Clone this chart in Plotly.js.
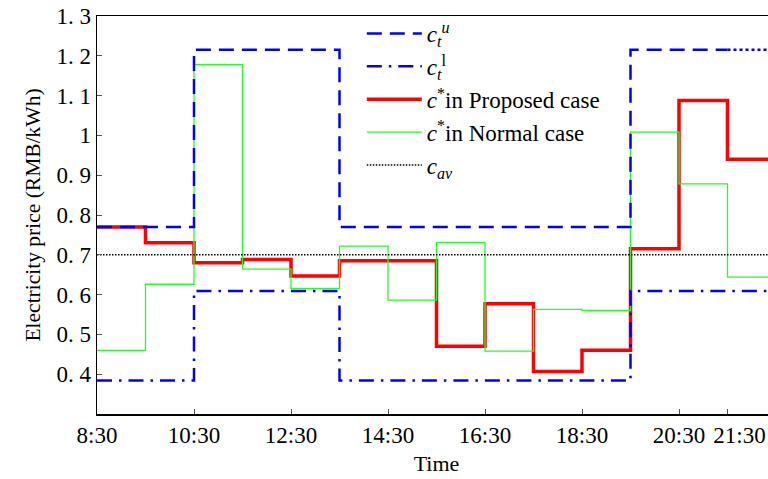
<!DOCTYPE html>
<html>
<head>
<meta charset="utf-8">
<script src="https://cdn.plot.ly/plotly-3.0.1.min.js"></script>
<style>
html, body { margin: 0; padding: 0; overflow: hidden; background: #fff; }
#chart { width: 810px; height: 479px; }
</style>
</head>
<body>
<div id="chart"></div>
<script>
// Hourly interval start times (hours), last entry is the end of the final interval
const timeEdges = [8.5, 9.5, 10.5, 11.5, 12.5, 13.5, 14.5, 15.5, 16.5, 17.5, 18.5, 19.5, 20.5, 21.5, 22.5];

const upperPrice    = [0.77, 0.77, 1.215, 1.215, 1.215, 0.77, 0.77, 0.77, 0.77, 0.77, 0.77, 1.215, 1.215, 1.215];
const lowerPrice    = [0.384, 0.384, 0.609, 0.609, 0.609, 0.384, 0.384, 0.384, 0.384, 0.384, 0.384, 0.609, 0.609, 0.609];
const proposedPrice = [0.77, 0.73, 0.68, 0.688, 0.647, 0.685, 0.685, 0.47, 0.577, 0.407, 0.46, 0.715, 1.088, 0.94];
const normalPrice   = [0.46, 0.626, 1.178, 0.664, 0.615, 0.722, 0.586, 0.731, 0.458, 0.563, 0.56, 1.008, 0.878, 0.644];
const averagePrice  = 0.70;

const xTickVals = [8.5, 10.5, 12.5, 14.5, 16.5, 18.5, 20.5];
const xTickText = ['8:30', '10:30', '12:30', '14:30', '16:30', '18:30', '20:30'];
const xLastTickVal = [21.5];
const xLastTickText = ['21:30'];
const yTickVals = [0.4, 0.5, 0.6, 0.7, 0.8, 0.9, 1.0, 1.1, 1.2, 1.3];
const yTickText = ['0. 4', '0. 5', '0. 6', '0. 7', '0. 8', '0. 9', '1', '1. 1', '1. 2', '1. 3'];

function stepY(vals) { return vals.concat([vals[vals.length - 1]]); }

const FONT = 'Liberation Serif';
const nSolid = timeEdges.length - 1; // dashed part of upper price up to 21:30

const traces = [
  {
    x: timeEdges, y: stepY(proposedPrice), mode: 'lines', line: {shape: 'hv', color: '#ff0000', width: 3.5},
    name: '<i>c</i><sup>*</sup>in Proposed case', legendrank: 3
  },
  {
    x: timeEdges, y: stepY(normalPrice), mode: 'lines', line: {shape: 'hv', color: '#22ff22', width: 1.3},
    name: '<i>c</i><sup>*</sup>in Normal case', legendrank: 4
  },
  {
    x: [timeEdges[0], timeEdges[timeEdges.length - 1]], y: [averagePrice, averagePrice], mode: 'lines',
    xaxis: 'x2',
    line: {color: '#000000', width: 1.5, dash: '1.5px,1.5px'},
    name: '<i>c</i><sub><i>av</i></sub>', legendrank: 5
  },
  {
    x: timeEdges.slice(0, nSolid), y: upperPrice.slice(0, nSolid), mode: 'lines',
    line: {shape: 'hv', color: '#0000ff', width: 2.5, dash: '15px,8px'},
    name: '<i>c</i><sub><i>t</i></sub><sup><i>u</i></sup>', legendrank: 1
  },
  {
    x: timeEdges.slice(nSolid - 1), y: stepY(upperPrice.slice(nSolid - 1)), mode: 'lines',
    line: {shape: 'hv', color: '#0000ff', width: 2.5, dash: '3px,3px'},
    showlegend: false, hoverinfo: 'skip'
  },
  {
    x: timeEdges, y: stepY(lowerPrice), mode: 'lines',
    line: {shape: 'hv', color: '#0000ff', width: 2.5, dash: '15px,7px,2.5px,7px'},
    name: '<i>c</i><sub><i>t</i></sub><sup>l</sup>', legendrank: 2
  }
];

const layout = {
  width: 810, height: 479,
  margin: {l: 97, r: 34, t: 14, b: 65},
  paper_bgcolor: '#ffffff', plot_bgcolor: '#ffffff',
  font: {family: FONT, color: '#000000', size: 23},
  showlegend: true,
  legend: {
    x: 0.39, y: 1.01, xanchor: 'left', yanchor: 'top',
    bgcolor: 'rgba(255,255,255,0)', borderwidth: 0,
    font: {family: FONT, size: 23, color: '#000000'},
    itemwidth: 55, tracegroupgap: 0
  },
  xaxis: {
    range: [8.5, 22.5], tickmode: 'array', tickvals: xTickVals, ticktext: xTickText,
    tickangle: 0,
    ticks: 'inside', ticklen: 5, tickwidth: 1, tickcolor: '#555',
    showline: true, linecolor: '#000', linewidth: 1.5, mirror: true,
    showgrid: false, zeroline: false,
    tickfont: {family: FONT, size: 23},
    title: {text: 'Time', font: {family: FONT, size: 22}, standoff: 8}
  },
  xaxis2: {
    range: [8.5, 22.5], overlaying: 'x', side: 'bottom', anchor: 'y',
    tickmode: 'array', tickvals: xLastTickVal, ticktext: xLastTickText,
    tickangle: 0, ticklabelshift: 12,
    ticks: 'inside', ticklen: 5, tickwidth: 1, tickcolor: '#555',
    showline: true, linecolor: '#000', linewidth: 1.5, mirror: false,
    showgrid: false, zeroline: false,
    tickfont: {family: FONT, size: 23}
  },
  yaxis: {
    range: [0.3, 1.3], tickmode: 'array', tickvals: yTickVals, ticktext: yTickText,
    ticks: 'inside', ticklen: 5, tickwidth: 1, tickcolor: '#555',
    showline: true, linecolor: '#000', linewidth: 1.5, mirror: true,
    showgrid: false, zeroline: false,
    tickfont: {family: FONT, size: 23},
    title: {text: 'Electricity price (RMB/kWh)', font: {family: FONT, size: 21.5}, standoff: 10}
  }
};

Plotly.newPlot('chart', traces, layout, {displayModeBar: false, staticPlot: true});
</script>
</body>
</html>
